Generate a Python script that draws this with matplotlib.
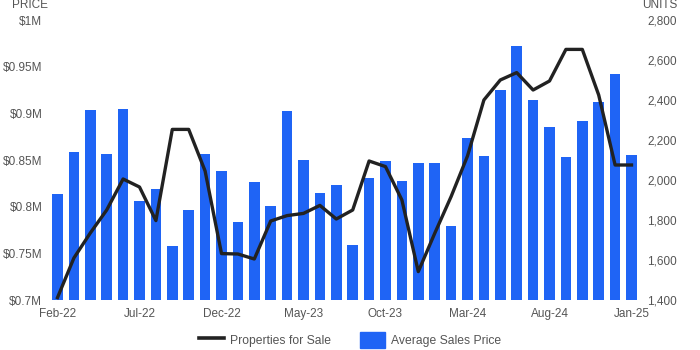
import matplotlib
matplotlib.use("Agg")
import matplotlib.pyplot as plt
from matplotlib.lines import Line2D
from matplotlib.patches import Rectangle
from matplotlib.ticker import FixedLocator

plt.rcParams['font.family'] = ['Liberation Sans', 'DejaVu Sans']

months = ["Feb-22", "Mar-22", "Apr-22", "May-22", "Jun-22", "Jul-22", "Aug-22", "Sep-22",
          "Oct-22", "Nov-22", "Dec-22", "Jan-23", "Feb-23", "Mar-23", "Apr-23", "May-23",
          "Jun-23", "Jul-23", "Aug-23", "Sep-23", "Oct-23", "Nov-23", "Dec-23", "Jan-24",
          "Feb-24", "Mar-24", "Apr-24", "May-24", "Jun-24", "Jul-24", "Aug-24", "Sep-24",
          "Oct-24", "Nov-24", "Dec-24", "Jan-25"]

# Average sales price, $M
avg_price = [0.814, 0.859, 0.904, 0.856, 0.905, 0.806, 0.819, 0.758,
             0.796, 0.856, 0.838, 0.784, 0.826, 0.801, 0.903, 0.850,
             0.815, 0.823, 0.759, 0.831, 0.849, 0.828, 0.847, 0.847,
             0.779, 0.874, 0.854, 0.925, 0.972, 0.914, 0.885, 0.853,
             0.892, 0.912, 0.942, 0.855]

# Properties for sale, units
props_for_sale = [1412, 1610, 1735, 1850, 2005, 1965, 1797, 2253,
                  2253, 2045, 1632, 1630, 1605, 1795, 1822, 1833,
                  1873, 1805, 1850, 2095, 2067, 1900, 1542, 1733,
                  1917, 2120, 2400, 2500, 2537, 2450, 2495, 2653,
                  2653, 2425, 2075, 2075]

price_ticks = [0.7, 0.75, 0.8, 0.85, 0.9, 0.95, 1.0]
price_labels = ["$0.7M", "$0.75M", "$0.8M", "$0.85M", "$0.9M", "$0.95M", "$1M"]
unit_ticks = [1400, 1600, 1800, 2000, 2200, 2400, 2600, 2800]
unit_labels = ["1,400", "1,600", "1,800", "2,000", "2,200", "2,400", "2,600", "2,800"]

BAR = "#1f64f5"
LINE = "#222222"
TXT = "#555555"

fig = plt.figure(figsize=(7, 3.5), dpi=100)
ax = fig.add_axes([49.3 / 700, 50 / 350, 590.4 / 700, 280 / 350])
x = list(range(len(months)))

ax.bar(x, [p - 0.7 for p in avg_price], bottom=0.7, width=0.64, color=BAR, zorder=1)
ax.set_ylim(0.7, 1.0)
ax.set_xlim(-0.5, len(months) - 0.5)
ax.yaxis.set_major_locator(FixedLocator(price_ticks))
ax.set_yticklabels(price_labels)

ax2 = ax.twinx()
ax2.plot(x, props_for_sale, color=LINE, lw=2.4, solid_joinstyle='round', zorder=3)
ax2.set_ylim(1400, 2800)
ax2.yaxis.set_major_locator(FixedLocator(unit_ticks))
ax2.set_yticklabels(unit_labels)
ax2.set_xlim(-0.5, len(months) - 0.5)

xt = list(range(0, len(months), 5))
ax.set_xticks(xt)
ax.set_xticklabels([months[i] for i in xt])

for a in (ax, ax2):
    for s in a.spines.values():
        s.set_visible(False)
    a.tick_params(length=0, colors=TXT, labelsize=8.5)
ax.tick_params(axis='y', pad=5)
ax2.tick_params(axis='y', pad=5.5)
ax.tick_params(axis='x', pad=6)

fig.text(12 / 700, 1 - 5 / 350, "PRICE", color=TXT, fontsize=8.5, ha='left', va='center')
fig.text(642 / 700, 1 - 5 / 350, "UNITS", color=TXT, fontsize=8.5, ha='left', va='center')

handles = [Line2D([0], [0], color=LINE, lw=2.6),
           Rectangle((0, 0), 1, 1, color=BAR)]
fig.legend(handles, ["Properties for Sale", "Average Sales Price"],
           loc='center', bbox_to_anchor=(0.5, 1 - 340 / 350), ncol=2, frameon=False,
           fontsize=8.7, labelcolor=TXT, handlelength=2.1, handleheight=1.7,
           handletextpad=0.5, columnspacing=2.4, borderpad=0)

fig.savefig("out.png", dpi=100)
